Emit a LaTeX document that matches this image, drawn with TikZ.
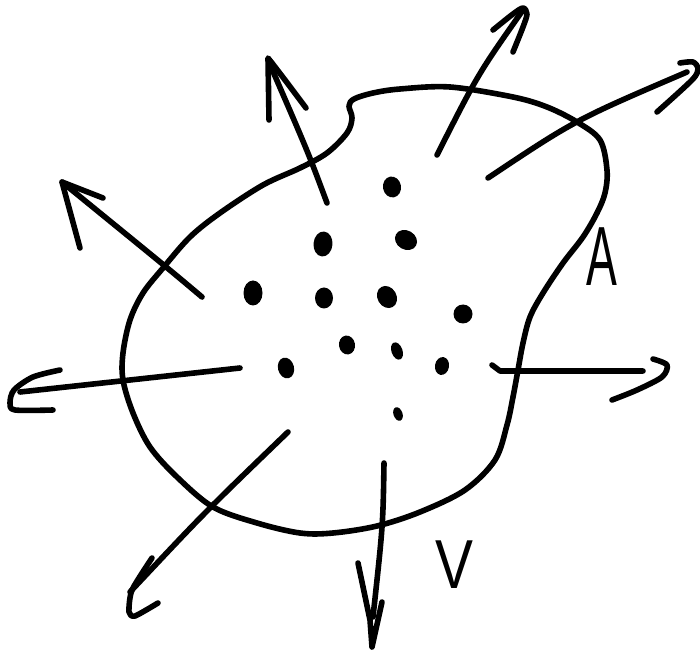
\documentclass[tikz,border=0pt]{standalone}
\usepackage{fontspec}
\setmainfont{Liberation Sans}
\usetikzlibrary{positioning}

\begin{document}
\begin{tikzpicture}[
    x=0.75pt, y=-0.75pt,
    stroke/.style={line width=4.2pt, line cap=round, line join=round},
    blot/.style={fill=black},
    letter/.style={inner sep=0pt, anchor=base}
]
\useasboundingbox (0,0) rectangle (700,652);

% the region
\draw[stroke] plot[smooth cycle, tension=0.55] coordinates {
    (327,153) (347,133) (352,118) (349,106) (354,99) (373,93) (400,89)
    (450,87) (513,97) (547,107) (577,122) (600,140) (607,170) (605,193)
    (597,213) (583,237) (563,263) (543,293) (530,317) (523,343) (518,370)
    (513,397) (507,425) (495,460) (465,490) (420,512) (377,526) (333,533)
    (300,533) (257,523) (213,507) (177,477) (150,447) (133,413) (123,380)
    (123,353) (130,320) (143,293) (163,268) (190,237) (220,213) (263,185)
    (300,168)};

% particles
\foreach \x/\y/\rx/\ry/\rot in {
    392/187/9/10.5/10, 323/244/9.5/12.5/-5, 406/240/11.5/9.5/-30,
    253/293/9.5/12.5/0, 324/298/9/10.5/0, 387/297/9.5/11.5/30,
    463/314/9.5/9.5/0, 347/345/8/9.5/10, 397/351/5.5/9/20,
    286/368/8/10.5/15, 442/366/7/9/-10, 398/414/4.5/7/20}
    \fill[blot, rotate around={\rot:(\x,\y)}] (\x,\y) ellipse [x radius=\rx, y radius=\ry];

% flux arrows
\coordinate (tail1) at (327,203); \coordinate (tip1) at (268,60);
\coordinate (tail2) at (437,155); \coordinate (tip2) at (523,10);
\coordinate (tail3) at (488,178); \coordinate (tip3) at (687,72);
\coordinate (tail4) at (202,297); \coordinate (tip4) at (62,182);
\coordinate (tail5) at (240,368); \coordinate (tip5) at (20,392);
\coordinate (tail6) at (492,365); \coordinate (tip6) at (643,371);
\coordinate (tail7) at (288,432); \coordinate (tip7) at (130,592);
\coordinate (tail8) at (384,463); \coordinate (tip8) at (373,617);

\draw[stroke] (tail1) .. controls (308,152) .. (tip1);
\draw[stroke] (tail2) .. controls (478,74) .. (tip2);
\draw[stroke] (tail3) .. controls (575,120) .. (tip3);
\draw[stroke] (tail4) .. controls (170,270) .. (tip4);
\draw[stroke] (tail5) -- (tip5);
\draw[stroke] (tail6) -- (500,371) -- (tip6);
\draw[stroke] (tail7) .. controls (205,512) .. (tip7);
\draw[stroke] (tail8) .. controls (383,525) .. (tip8);

% heads
\draw[stroke] (269,120) -- (268,58) -- (272,63) -- (285,80) -- (306,108);
\draw[stroke] plot[smooth, tension=0.5] coordinates {(493,30) (513,14) (523,8) (527,14) (523,27) (513,52)};
\draw[stroke] plot[smooth, tension=0.5] coordinates {(680,63) (693,62) (698,69) (692,80) (657,112)};
\draw[stroke] (103,198) -- (62,182) -- (80,248);
\draw[stroke] plot[smooth, tension=0.5] coordinates {(60,370) (33,377) (14,390) (10,403) (15,410) (53,410)};
\draw[stroke] plot[smooth, tension=0.5] coordinates {(653,359) (667,365) (662,377) (637,390) (612,400)};
\draw[stroke] plot[smooth, tension=0.4] coordinates {(152,558) (132,590) (129,612) (135,616) (158,603)};
\draw[stroke] (358,563) -- (370,620) -- (372,647) -- (382,602);

% labels
\node[letter] (labA) at (602,286) {\fontsize{63}{63}\selectfont\scalebox{0.55}[1]{A}};
\node[letter] (labV) at (454,588) {\fontsize{52}{52}\selectfont\scalebox{0.82}[1]{V}};
\end{tikzpicture}
\end{document}
